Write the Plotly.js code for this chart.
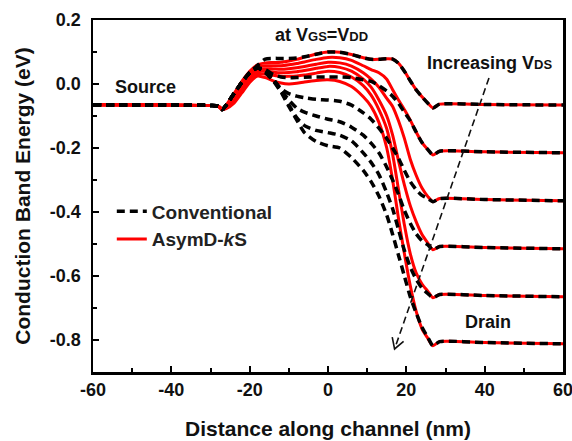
<!DOCTYPE html>
<html>
<head>
<meta charset="utf-8">
<script src="https://cdn.plot.ly/plotly-3.0.1.min.js"></script>
<style>html,body{margin:0;padding:0;background:#fff;}#chart{width:572px;height:441px;}</style>
</head>
<body>
<div id="chart"></div>
<script>
// Position along channel (nm)
const xPos = [-60, -40, -30, -28, -27, -26, -24, -22, -20, -18, -16, -14, -12, -10, -8, -6, -3, 0, 3, 6, 9, 11, 13, 15, 16.5, 18, 19.5, 21, 22.5, 24, 25.5, 26.8, 28.5, 40, 60];

// AsymD-kS conduction band energy (eV), increasing VDS
const asym1 = [-0.065,-0.066,-0.067,-0.069,-0.08,-0.066,-0.03,0.008,0.04,0.06,0.066,0.067,0.068,0.072,0.077,0.084,0.094,0.100,0.099,0.092,0.082,0.077,0.077,0.079,0.078,0.065,0.04,0.01,-0.018,-0.04,-0.06,-0.075,-0.063,-0.064,-0.066];
const asym2 = [-0.065,-0.066,-0.067,-0.069,-0.08,-0.069,-0.036,0.001,0.033,0.053,0.057,0.057,0.057,0.06,0.064,0.069,0.077,0.083,0.082,0.074,0.057,0.045,0.035,0.015,-0.018,-0.05,-0.08,-0.113,-0.15,-0.183,-0.205,-0.222,-0.21,-0.212,-0.215];
const asym3 = [-0.065,-0.066,-0.067,-0.069,-0.08,-0.071,-0.042,-0.006,0.026,0.046,0.048,0.047,0.046,0.048,0.051,0.055,0.062,0.068,0.066,0.056,0.035,0.015,-0.01,-0.045,-0.07,-0.115,-0.17,-0.235,-0.285,-0.325,-0.352,-0.368,-0.358,-0.361,-0.365];
const asym4 = [-0.065,-0.066,-0.067,-0.069,-0.08,-0.073,-0.048,-0.013,0.019,0.039,0.04,0.037,0.035,0.036,0.038,0.042,0.049,0.055,0.052,0.04,0.015,-0.01,-0.05,-0.1,-0.16,-0.24,-0.315,-0.38,-0.43,-0.47,-0.497,-0.518,-0.508,-0.511,-0.515];
const asym5 = [-0.065,-0.066,-0.067,-0.069,-0.08,-0.075,-0.054,-0.02,0.012,0.032,0.031,0.027,0.024,0.024,0.025,0.028,0.034,0.04,0.036,0.022,-0.005,-0.035,-0.08,-0.14,-0.22,-0.33,-0.44,-0.53,-0.59,-0.625,-0.648,-0.668,-0.658,-0.661,-0.665];
const asym6 = [-0.065,-0.066,-0.067,-0.069,-0.08,-0.077,-0.06,-0.028,0.005,0.025,0.02,0.01,0.003,0.0,0.002,0.006,0.011,0.013,0.008,-0.008,-0.04,-0.07,-0.12,-0.2,-0.3,-0.42,-0.53,-0.63,-0.71,-0.765,-0.795,-0.818,-0.805,-0.808,-0.812];

// Conventional conduction band energy (eV), increasing VDS
const conv1 = [-0.065,-0.066,-0.067,-0.069,-0.08,-0.066,-0.03,0.005,0.035,0.058,0.078,0.08,0.08,0.08,0.081,0.085,0.093,0.100,0.099,0.092,0.082,0.077,0.077,0.079,0.078,0.065,0.04,0.01,-0.018,-0.04,-0.06,-0.075,-0.063,-0.064,-0.066];
const conv2 = [-0.065,-0.066,-0.067,-0.069,-0.08,-0.066,-0.03,0.005,0.035,0.05,0.045,0.03,0.022,0.02,0.02,0.021,0.022,0.022,0.022,0.02,0.013,0.008,-0.005,-0.022,-0.038,-0.06,-0.088,-0.115,-0.15,-0.183,-0.205,-0.222,-0.21,-0.212,-0.215];
const conv3 = [-0.065,-0.066,-0.067,-0.069,-0.08,-0.066,-0.03,0.005,0.035,0.05,0.04,0.015,-0.015,-0.03,-0.038,-0.043,-0.048,-0.05,-0.054,-0.066,-0.09,-0.11,-0.138,-0.17,-0.2,-0.232,-0.27,-0.305,-0.33,-0.348,-0.358,-0.368,-0.358,-0.361,-0.365];
const conv4 = [-0.065,-0.066,-0.067,-0.069,-0.08,-0.066,-0.03,0.005,0.035,0.05,0.04,0.015,-0.018,-0.05,-0.075,-0.088,-0.1,-0.11,-0.118,-0.135,-0.16,-0.185,-0.215,-0.26,-0.3,-0.345,-0.395,-0.435,-0.468,-0.49,-0.503,-0.518,-0.508,-0.511,-0.515];
const conv5 = [-0.065,-0.066,-0.067,-0.069,-0.08,-0.066,-0.03,0.005,0.035,0.05,0.038,0.012,-0.022,-0.065,-0.105,-0.13,-0.145,-0.152,-0.16,-0.178,-0.215,-0.245,-0.283,-0.34,-0.39,-0.455,-0.52,-0.572,-0.61,-0.638,-0.655,-0.668,-0.658,-0.661,-0.665];
const conv6 = [-0.065,-0.066,-0.067,-0.069,-0.08,-0.066,-0.03,0.005,0.035,0.05,0.035,0.01,-0.025,-0.07,-0.112,-0.152,-0.18,-0.193,-0.2,-0.23,-0.27,-0.305,-0.35,-0.41,-0.47,-0.535,-0.6,-0.665,-0.715,-0.76,-0.792,-0.818,-0.805,-0.808,-0.812];

const asymSeries = [asym1, asym2, asym3, asym4, asym5, asym6];
const convSeries = [conv1, conv2, conv3, conv4, conv5, conv6];

const seriesNames = ['Conventional', 'AsymD-<i>k</i>S'];

const xTickVals = [-60, -40, -20, 0, 20, 40, 60];
const xTickText = ['-60', '-40', '-20', '0', '20', '40', '60'];
const yTickVals = [-0.8, -0.6, -0.4, -0.2, 0.0, 0.2];
const yTickText = ['-0.8', '-0.6', '-0.4', '-0.2', '0.0', '0.2'];

const FONT = 'Liberation Sans, Arial, sans-serif';

const traces = [];
asymSeries.forEach((ys, i) => {
  traces.push({
    x: xPos, y: ys, type: 'scatter', mode: 'lines',
    line: {color: '#ff0000', width: 3, shape: 'spline', smoothing: 0.6},
    name: seriesNames[1], legendgroup: 'asym', showlegend: i === 0, legendrank: 2,
    hoverinfo: 'skip'
  });
});
convSeries.forEach((ys, i) => {
  traces.push({
    x: xPos, y: ys, type: 'scatter', mode: 'lines',
    line: {color: '#000000', width: 3.5, dash: '8px,5px', shape: 'spline', smoothing: 0.6},
    name: seriesNames[0], legendgroup: 'conv', showlegend: i === 0, legendrank: 1,
    hoverinfo: 'skip'
  });
});

const big = 18, small = 13;
const layout = {
  width: 572, height: 441,
  margin: {l: 93, r: 9, t: 20, b: 69},
  paper_bgcolor: '#fff', plot_bgcolor: '#fff',
  font: {family: FONT, color: '#000'},
  showlegend: true,
  legend: {
    x: 0.04, y: 0.51, xanchor: 'left', yanchor: 'top',
    bgcolor: 'rgba(0,0,0,0)', borderwidth: 0,
    font: {family: FONT, size: 19, weight: 'bold', color: '#222'},
    tracegroupgap: 0
  },
  xaxis: {
    range: [-60, 60], showgrid: false, zeroline: false,
    showline: true, linecolor: '#000', linewidth: 2.5, mirror: true,
    ticks: 'inside', ticklen: 6, tickwidth: 2, tickcolor: '#000',
    tickmode: 'array', tickvals: xTickVals, ticktext: xTickText,
    ticklabeloverflow: 'allow',
    minor: {dtick: 10, tick0: 0, ticks: 'inside', ticklen: 4, tickwidth: 2, tickcolor: '#000', showgrid: false},
    tickfont: {family: FONT, size: 18, weight: 'bold', color: '#111'},
    title: {text: 'Distance along channel (nm)', font: {family: FONT, size: 21, weight: 'bold', color: '#111'}, standoff: 22}
  },
  yaxis: {
    range: [-0.9, 0.2], showgrid: false, zeroline: false,
    showline: true, linecolor: '#000', linewidth: 2.5, mirror: true,
    ticks: 'inside', ticklen: 6, tickwidth: 2, tickcolor: '#000',
    tickmode: 'array', tickvals: yTickVals, ticktext: yTickText,
    minor: {dtick: 0.1, tick0: 0, ticks: 'inside', ticklen: 4, tickwidth: 2, tickcolor: '#000', showgrid: false},
    tickfont: {family: FONT, size: 18, weight: 'bold', color: '#111'},
    ticklabelstandoff: 6,
    title: {text: 'Conduction Band Energy (eV)', font: {family: FONT, size: 21, weight: 'bold', color: '#111'}, standoff: 14}
  },
  annotations: [
    {x: -46.5, y: -0.008, xref: 'x', yref: 'y', showarrow: false, text: 'Source',
     font: {family: FONT, size: big, weight: 'bold', color: '#111'}},
    {x: -1.7, y: 0.153, xref: 'x', yref: 'y', showarrow: false,
     text: 'at V<span style="font-size:' + small + 'px">GS</span>=V<span style="font-size:' + small + 'px">DD</span>',
     font: {family: FONT, size: big, weight: 'bold', color: '#111'}},
    {x: 41.3, y: 0.066, xref: 'x', yref: 'y', showarrow: false,
     text: 'Increasing V<span style="font-size:' + small + 'px">DS</span>',
     font: {family: FONT, size: big, weight: 'bold', color: '#111'}},
    {x: 40.9, y: -0.744, xref: 'x', yref: 'y', showarrow: false, text: 'Drain',
     font: {family: FONT, size: big, weight: 'bold', color: '#111'}}
  ],
  shapes: [
    {type: 'line', xref: 'x', yref: 'y', x0: 41.1, y0: 0.019, x1: 17.0, y1: -0.828,
     line: {color: '#111', width: 1.6, dash: '7px,4px'}},
    {type: 'path', xref: 'x', yref: 'y', path: 'M 19.3,-0.804 L 17.0,-0.828 L 16.4,-0.791',
     line: {color: '#111', width: 1.6}}
  ]
};

Plotly.newPlot('chart', traces, layout, {displayModeBar: false, staticPlot: true});
</script>
</body>
</html>
